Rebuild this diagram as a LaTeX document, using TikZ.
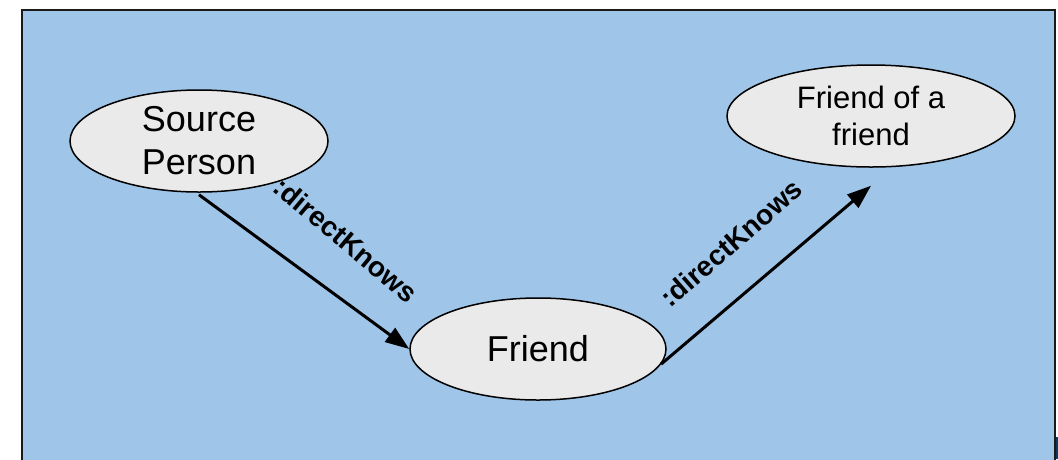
\documentclass[tikz,border=0pt]{standalone}
\usepackage{fontspec}
\setmainfont{Liberation Sans}
\usetikzlibrary{shapes.geometric,arrows.meta}
\definecolor{panelblue}{HTML}{9FC5E8}
\definecolor{nodegray}{HTML}{EAEAEA}
\definecolor{edgenavy}{HTML}{0B3A5C}
\tikzset{
  entity/.style={ellipse, draw=black, line width=1.5pt, fill=nodegray, inner sep=0pt, align=center},
  rel/.style={line width=3pt, -{Triangle[length=24pt,width=17pt]}},
  rellabel/.style={font=\fontsize{28}{34}\selectfont\bfseries, inner sep=0pt}
}
\begin{document}
\begin{tikzpicture}[x=1pt,y=-1pt]
\useasboundingbox (0,0) rectangle (1058,459);
% background panel
\fill[white] (0,0) rectangle (1058,459);
\draw[line width=2pt, draw=black!90, fill=panelblue] (21.5,9.5) rectangle (1055,470);
\fill[edgenavy] (1056.2,437) rectangle (1058,459);

% people
\node[entity, minimum width=258pt, minimum height=102pt, font=\fontsize{36}{43}\selectfont] (src) at (199,141) {Source\\Person};
\node[entity, minimum width=256pt, minimum height=102pt, font=\fontsize{36}{43}\selectfont] (friend) at (538,349) {Friend};
\node[entity, minimum width=288pt, minimum height=102pt, font=\fontsize{31}{37}\selectfont] (foaf) at (871,116) {Friend of a\\friend};

% relations
\coordinate (foafin) at ([yshift=-18pt]foaf.south);
\draw[rel] ([yshift=-2pt]src.south) -- (friend.west);
\draw[rel] (friend.-7) -- (foafin);

\node[rellabel, rotate=-40] (lab1) at (346,240) {:directKnows};
\node[rellabel, rotate=41] (lab2) at (731,243) {:directKnows};
\end{tikzpicture}
\end{document}
